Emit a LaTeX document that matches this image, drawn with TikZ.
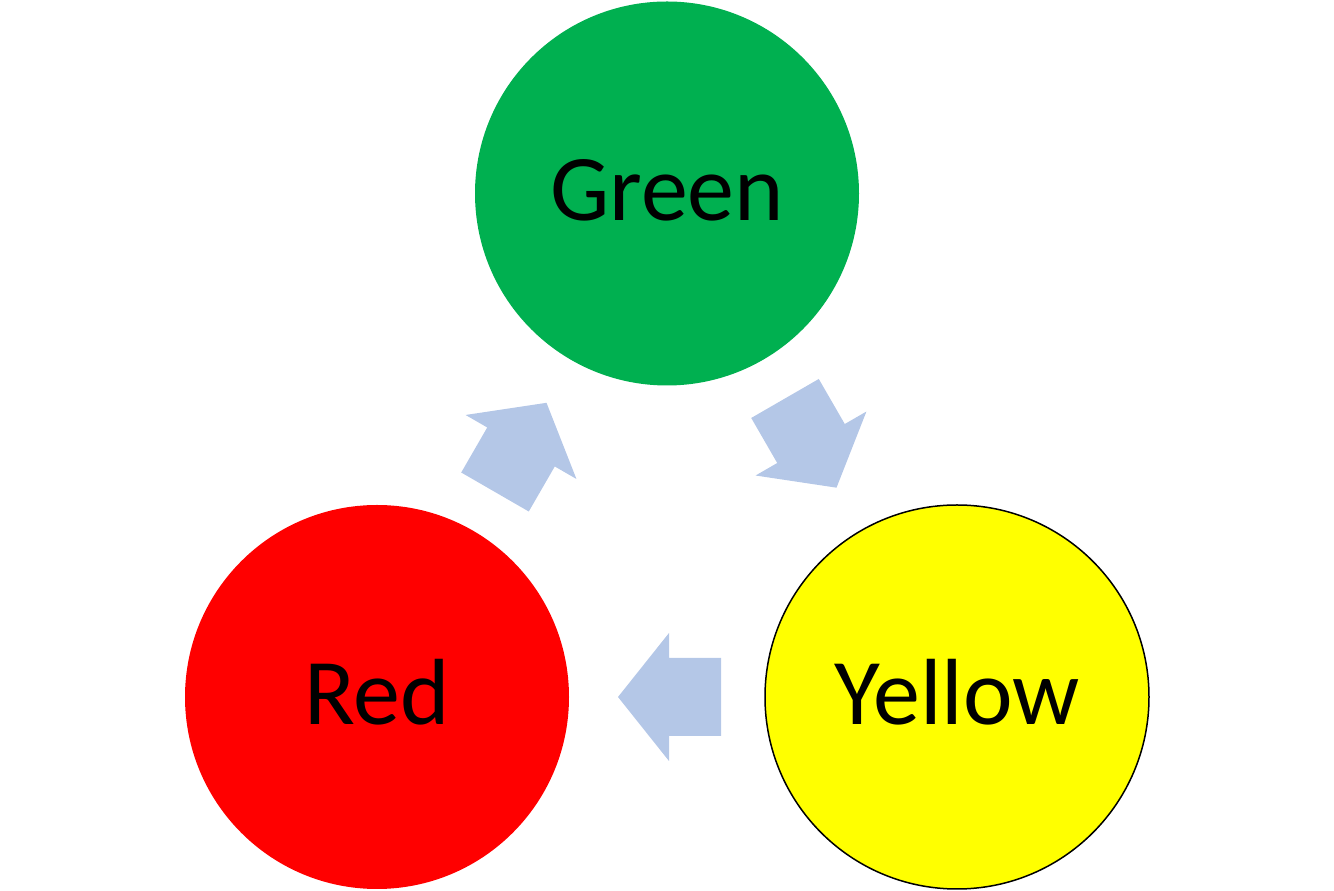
\documentclass[tikz,border=0pt]{standalone}
\usepackage{fontspec}
\setmainfont{Carlito}
\usetikzlibrary{calc}
\definecolor{lampgreen}{HTML}{00B050}
\definecolor{lampred}{HTML}{FF0000}
\definecolor{lampyellow}{HTML}{FFFF00}
\definecolor{arrowblue}{HTML}{B4C7E7}
\tikzset{
  lamp/.style={circle, minimum size=384pt, inner sep=0pt,
    text height=55pt, text depth=0pt, font=\fontsize{94}{110}\selectfont},
  cyclearrow/.pic={
    \fill[arrowblue] (-54,-39) -- (-2,-39) -- (-2,-64) -- (49,0)
      -- (-2,64) -- (-2,39) -- (-54,39) -- cycle;
  }
}
\begin{document}
\begin{tikzpicture}
			[x=1pt, y=1pt]
			\useasboundingbox (0,0) rectangle (1334,891);
			\node[lamp, fill=lampgreen] (G) at (667,697.5) {Green};
			\node[lamp, fill=lampred] (R) at (377,194) {Red};
			\node[lamp, fill=lampyellow, draw=black, line width=1.5pt] (Y) at (957,194) {Yellow};
			% arrows of the cycle
			\pic[rotate=-60] at ($(G)!0.5!(Y)$) {cyclearrow};
			\pic[rotate=180] at ($(Y)!0.5!(R)$) {cyclearrow};
			\pic[rotate=60] at ($(R)!0.5!(G)$) {cyclearrow};
		\end{tikzpicture}
\end{document}
